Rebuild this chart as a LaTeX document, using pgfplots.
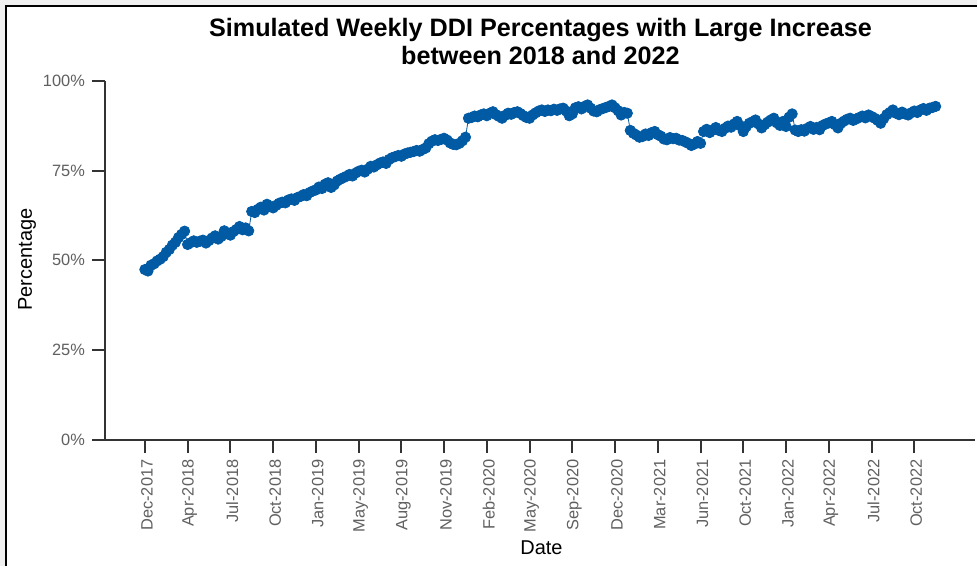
\documentclass[border=0pt]{standalone}
\usepackage{pgfplots}
\pgfplotsset{compat=1.18}
\usepackage{pgfplotstable}
\usepackage{fontspec}
\setmainfont{Liberation Sans}
\definecolor{dotblue}{RGB}{0,90,164}
\definecolor{axgray}{RGB}{51,51,51}
\definecolor{lblgray}{RGB}{96,96,96}
\definecolor{framegray}{RGB}{240,240,240}
\pgfplotstableread{
i y
0 47.4
1 47.0
2 48.6
3 49.0
4 49.8
5 50.3
6 51.0
7 52.2
8 53.0
9 54.2
10 55.0
11 56.3
12 57.2
13 58.1
14 54.4
15 54.9
16 55.4
17 55.0
18 55.3
19 55.6
20 54.8
21 55.5
22 56.2
23 56.8
24 55.9
25 56.6
26 58.2
27 57.4
28 57.0
29 58.0
30 58.6
31 59.4
32 58.5
33 59.0
34 58.2
35 63.6
36 63.3
37 64.2
38 64.8
39 64.0
40 65.6
41 65.0
42 64.6
43 65.3
44 65.9
45 66.2
46 66.0
47 66.8
48 67.1
49 66.7
50 67.5
51 67.8
52 68.3
53 68.0
54 68.9
55 69.3
56 69.6
57 70.4
58 70.0
59 71.2
60 71.6
61 70.3
62 71.0
63 72.1
64 72.6
65 73.0
66 73.4
67 73.9
68 73.5
69 74.3
70 74.8
71 75.1
72 74.6
73 75.4
74 76.2
75 76.0
76 76.6
77 77.1
78 77.4
79 77.0
80 78.1
81 78.6
82 78.9
83 79.2
84 79.0
85 79.6
86 79.9
87 80.1
88 80.3
89 80.6
90 80.4
91 80.9
92 81.3
93 82.5
94 83.2
95 83.6
96 83.4
97 83.7
98 84.0
99 83.5
100 82.7
101 82.3
102 82.2
103 82.6
104 83.3
105 84.3
106 89.6
107 89.8
108 90.2
109 90.0
110 90.5
111 90.8
112 90.3
113 91.0
114 91.4
115 90.6
116 90.1
117 89.6
118 90.4
119 91.0
120 90.7
121 91.2
122 91.4
123 90.9
124 90.3
125 89.8
126 89.6
127 90.5
128 91.1
129 91.6
130 91.9
131 91.5
132 91.9
133 91.7
134 92.1
135 91.8
136 92.2
137 92.4
138 91.6
139 90.3
140 90.8
141 92.5
142 92.8
143 92.2
144 92.9
145 93.3
146 92.4
147 91.6
148 91.4
149 92.0
150 92.3
151 92.6
152 92.9
153 93.3
154 92.5
155 91.7
156 90.5
157 91.2
158 91.0
159 86.2
160 85.4
161 84.9
162 84.3
163 84.5
164 85.2
165 84.8
166 85.6
167 85.9
168 85.0
169 84.6
170 83.8
171 83.6
172 84.2
173 83.9
174 84.0
175 83.5
176 83.4
177 83.0
178 82.6
179 82.0
180 82.4
181 83.1
182 82.6
183 85.9
184 86.5
185 85.6
186 86.3
187 87.0
188 86.2
189 85.9
190 86.8
191 87.4
192 87.1
193 88.0
194 88.7
195 87.5
196 85.9
197 87.3
198 88.2
199 88.6
200 89.1
201 88.0
202 86.9
203 87.8
204 88.5
205 89.1
206 89.6
207 88.3
208 87.6
209 88.7
210 87.3
211 89.9
212 90.8
213 86.3
214 85.9
215 86.4
216 86.0
217 86.8
218 87.3
219 86.5
220 87.0
221 86.4
222 87.6
223 88.0
224 88.3
225 88.7
226 87.8
227 86.9
228 88.2
229 88.8
230 89.3
231 89.6
232 89.0
233 89.4
234 89.8
235 90.2
236 89.7
237 90.5
238 90.1
239 89.6
240 89.0
241 88.2
242 89.5
243 90.6
244 91.2
245 91.9
246 91.0
247 90.6
248 91.3
249 90.8
250 90.5
251 91.1
252 91.6
253 91.2
254 91.9
255 92.3
256 91.8
257 92.4
258 92.6
259 92.9
}\ddidata
\begin{document}
\begin{tikzpicture}
% screenshot frame
\fill[framegray] (0,0) rectangle (489bp,-283.5bp);
\fill[white] (3bp,-3bp) rectangle (489bp,-283.5bp);
\draw[black, line width=1bp] (3bp,-283.5bp) -- (3bp,-3bp) -- (489bp,-3bp);
\useasboundingbox (0,0) rectangle (489bp,-283.5bp);
\begin{axis}[
  at={(52.5bp,-220bp)}, anchor=south west,
  scale only axis, width=435.5bp, height=179.5bp,
  xmin=-13.1, xmax=271.9, ymin=0, ymax=100,
  axis x line*=bottom, axis y line*=left,
  axis line style={axgray, line width=1bp},
  every tick/.style={axgray, line width=1bp},
  tick align=outside,
  major tick length=6.5bp,
  xtick={0,14,28,42,56,70,84,98,112,126,140,154,168,182,196,210,224,238,252},
  xticklabels={Dec-2017,Apr-2018,Jul-2018,Oct-2018,Jan-2019,May-2019,Aug-2019,Nov-2019,Feb-2020,May-2020,Sep-2020,Dec-2020,Mar-2021,Jun-2021,Oct-2021,Jan-2022,Apr-2022,Jul-2022,Oct-2022},
  ytick={0,25,50,75,100},
  yticklabels={0\%,25\%,50\%,75\%,100\%},
  x tick label style={rotate=90, anchor=east, yshift=-1bp, font=\fontsize{8.2bp}{9bp}\selectfont, text=lblgray},
  y tick label style={font=\fontsize{8.2bp}{9bp}\selectfont, text=lblgray},
  clip=false,
]
\addplot[dotblue, line width=0.4bp, mark=*, mark size=2.6bp, mark options={fill=dotblue, draw=dotblue}] table[x=i, y=y] {\ddidata};
\end{axis}
\node[font=\bfseries\fontsize{12.6bp}{14bp}\selectfont, align=center] at (270.5bp,-20.8bp) {Simulated Weekly DDI Percentages with Large Increase\\between 2018 and 2022};
\node[font=\fontsize{10bp}{12bp}\selectfont, rotate=90] at (13.5bp,-130bp) {Percentage};
\node[font=\fontsize{10bp}{12bp}\selectfont] at (271bp,-274bp) {Date};
\end{tikzpicture}
\end{document}
